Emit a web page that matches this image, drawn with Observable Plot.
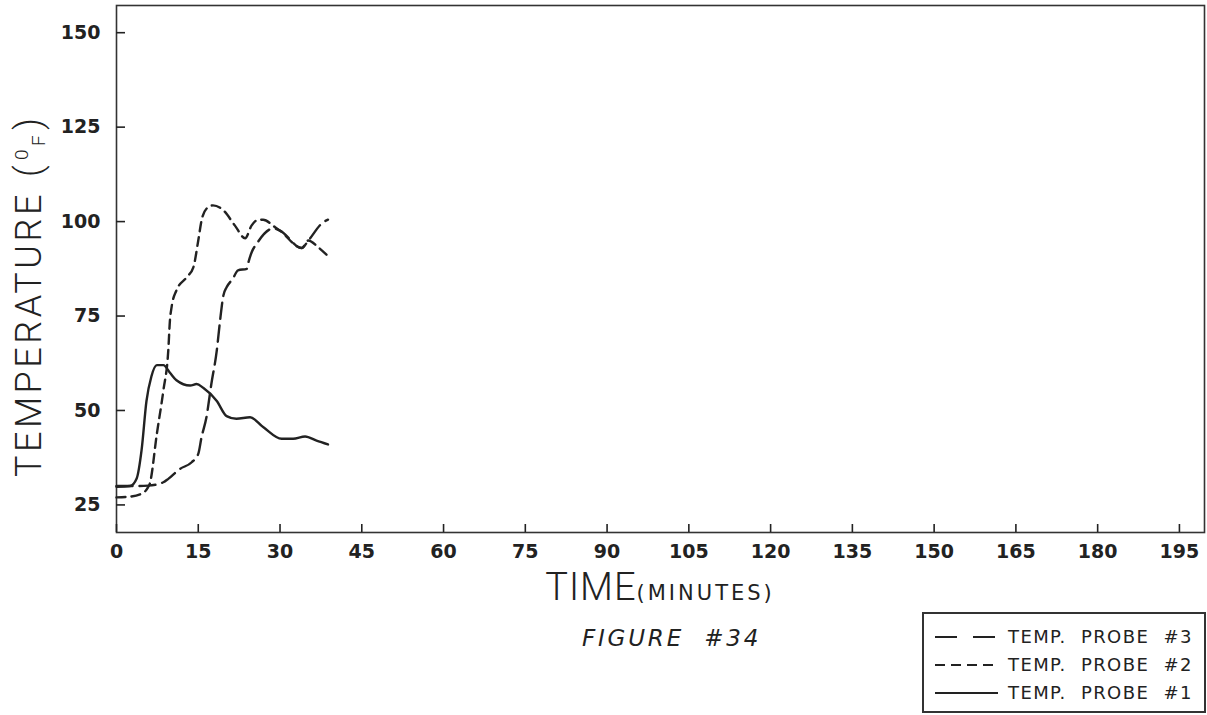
<!DOCTYPE html>
<html><head><meta charset="utf-8">
<script src="https://cdn.jsdelivr.net/npm/d3@7"></script>
<script src="https://cdn.jsdelivr.net/npm/@observablehq/plot@0.6"></script>
<style>body{margin:0;background:#fff;} #chart{width:1207px;height:715px;}</style>
</head><body><div id="chart"></div>
<script>
// Tick values
const xTicks = [0, 15, 30, 45, 60, 75, 90, 105, 120, 135, 150, 165, 180, 195];
const yTicks = [25, 50, 75, 100, 125, 150];

// Probe #1 (solid)
const probe1Time = [0, 2.5, 3.7, 4.6, 5.5, 6.4, 7.4, 8.6, 9.8, 11, 13.5, 14.7, 15.9, 18.4, 20.2, 22, 24.5, 26.9, 30.3, 32.4, 34.6, 36.7, 38.8];
const probe1Temp = [29.8, 30, 32, 39.5, 52.5, 59, 62, 62, 60, 58, 56.6, 57, 56, 52.5, 48.5, 47.8, 48.2, 45.6, 42.5, 42.5, 43.1, 42, 41];

// Probe #2 (short dashes)
const probe2Time = [0, 2.5, 4.9, 5.8, 6.1, 7.4, 8.6, 9.5, 9.8, 10.1, 11, 12.9, 14.1, 15, 15.6, 16.5, 17.7, 19.6, 21.7, 23.6, 24.8, 25.7, 26.9, 29.1, 30, 34, 35.2, 37, 38.7];
const probe2Temp = [27, 27.2, 28.2, 29.7, 30.6, 43.8, 55.3, 65.9, 73.8, 77.3, 81.8, 85.3, 87.9, 95, 100.3, 103.4, 104.3, 103, 99, 95.6, 99, 100.3, 100.5, 98.5, 97.6, 93, 95, 93.2, 91];

// Probe #3 (long dashes)
const probe3Time = [0, 3, 5.8, 8.6, 9.5, 11.6, 13.8, 15, 15.6, 16.5, 17.4, 18.4, 19, 19.6, 20.2, 21.3, 22.3, 23.9, 24.2, 24.8, 25.7, 28.8, 30, 34, 35.2, 37.9, 38.8];
const probe3Temp = [30, 30, 30.1, 31, 31.9, 34.5, 36.3, 38.5, 42.9, 48.2, 57, 65.9, 73.8, 80.4, 82.6, 84.8, 87.1, 87.5, 89.2, 91.9, 94.1, 98.2, 97.6, 93, 95, 99.8, 100.5];

const legendLabels = ["TEMP.  PROBE  #3", "TEMP.  PROBE  #2", "TEMP.  PROBE  #1"];
const legendDash = ["22,16", "10,6", null];

const toRows = (t, v) => t.map((d, i) => ({time: d, temp: v[i]}));
const p1 = toRows(probe1Time, probe1Temp);
const p2 = toRows(probe2Time, probe2Temp);
const p3 = toRows(probe3Time, probe3Temp);

const ink = "#222";
const plot = Plot.plot({
  width: 1207, height: 715,
  marginLeft: 116, marginRight: 3, marginTop: 5, marginBottom: 183,
  style: {background: "#fff", color: ink, fontFamily: "DejaVu Sans"},
  x: {domain: [0, 199.6], label: null},
  y: {domain: [17.7, 157.2], label: null},
  marks: [
    Plot.frame({stroke: "#333", strokeWidth: 1.6}),
    Plot.axisX({ticks: xTicks, tickSize: 0, tickPadding: 12, fontSize: 19, fontWeight: "bold", label: null}),
    Plot.axisX({ticks: xTicks, tickSize: 8, dy: -8, text: null, label: null, strokeWidth: 1.6}),
    Plot.axisY({ticks: yTicks, tickSize: 0, tickPadding: 16, fontSize: 19, fontWeight: "bold", label: null}),
    Plot.axisY({ticks: yTicks, tickSize: 9, dx: 9, text: null, label: null, strokeWidth: 1.6}),
    Plot.line(p1, {x: "time", y: "temp", stroke: ink, strokeWidth: 2.4, curve: "monotone-x"}),
    Plot.line(p2, {x: "time", y: "temp", stroke: ink, strokeWidth: 2.4, strokeDasharray: "9,6", curve: "monotone-x"}),
    Plot.line(p3, {x: "time", y: "temp", stroke: ink, strokeWidth: 2.4, strokeDasharray: "16,7", curve: "monotone-x"})
  ]
});
document.getElementById("chart").appendChild(plot);

const svg = d3.select(plot);
// Y axis title
const yt = svg.append("text")
  .attr("transform", "translate(41,477) rotate(-90)")
  .attr("text-anchor", "start")
  .attr("fill", ink)
  .style("font-family", "Roboto")
  .style("font-weight", 300)
  .style("font-size", "36px")
  .style("letter-spacing", "3.5px");
yt.append("tspan").text("TEMPERATURE");
yt.append("tspan").text("(").attr("dx", 14);
yt.append("tspan").text("0").style("font-size", "19px").attr("dy", -13).attr("dx", 2);
yt.append("tspan").text("F").style("font-size", "19px").attr("dy", 17);
yt.append("tspan").text(")").attr("dy", -4).attr("dx", 2);

// X axis title
const xt = svg.append("text")
  .attr("x", 660).attr("y", 600)
  .attr("text-anchor", "middle")
  .attr("fill", ink);
xt.append("tspan").text("TIME").style("font-family", "Roboto").style("font-weight", 300).style("font-size", "38px").style("letter-spacing", "1px");
xt.append("tspan").text("(MINUTES)").style("font-family", "DejaVu Sans").style("font-size", "21px").style("letter-spacing", "3px");

// Figure caption
svg.append("text")
  .attr("x", 582).attr("y", 646)
  .attr("text-anchor", "start")
  .attr("fill", ink)
  .style("font-family", "DejaVu Sans")
  .style("font-style", "italic")
  .style("font-size", "23px")
  .style("white-space", "pre")
  .style("letter-spacing", "2.8px")
  .text("FIGURE  #34");

// Legend
const lg = svg.append("g");
lg.append("rect").attr("x", 923).attr("y", 613).attr("width", 282).attr("height", 99)
  .attr("fill", "none").attr("stroke", "#333").attr("stroke-width", 2);
legendLabels.forEach((lab, i) => {
  const yy = 637 + i * 28;
  const ln = lg.append("line").attr("x1", 935).attr("x2", 998).attr("y1", yy).attr("y2", yy)
    .attr("stroke", ink).attr("stroke-width", 2);
  if (legendDash[i]) ln.attr("stroke-dasharray", legendDash[i]);
  lg.append("text").attr("x", 1008).attr("y", yy + 6)
    .attr("text-anchor", "start")
    .attr("fill", ink)
    .style("font-family", "DejaVu Sans").style("font-size", "18px")
    .style("white-space", "pre")
    .style("letter-spacing", "1.4px")
    .text(lab);
});
</script>
</body></html>
